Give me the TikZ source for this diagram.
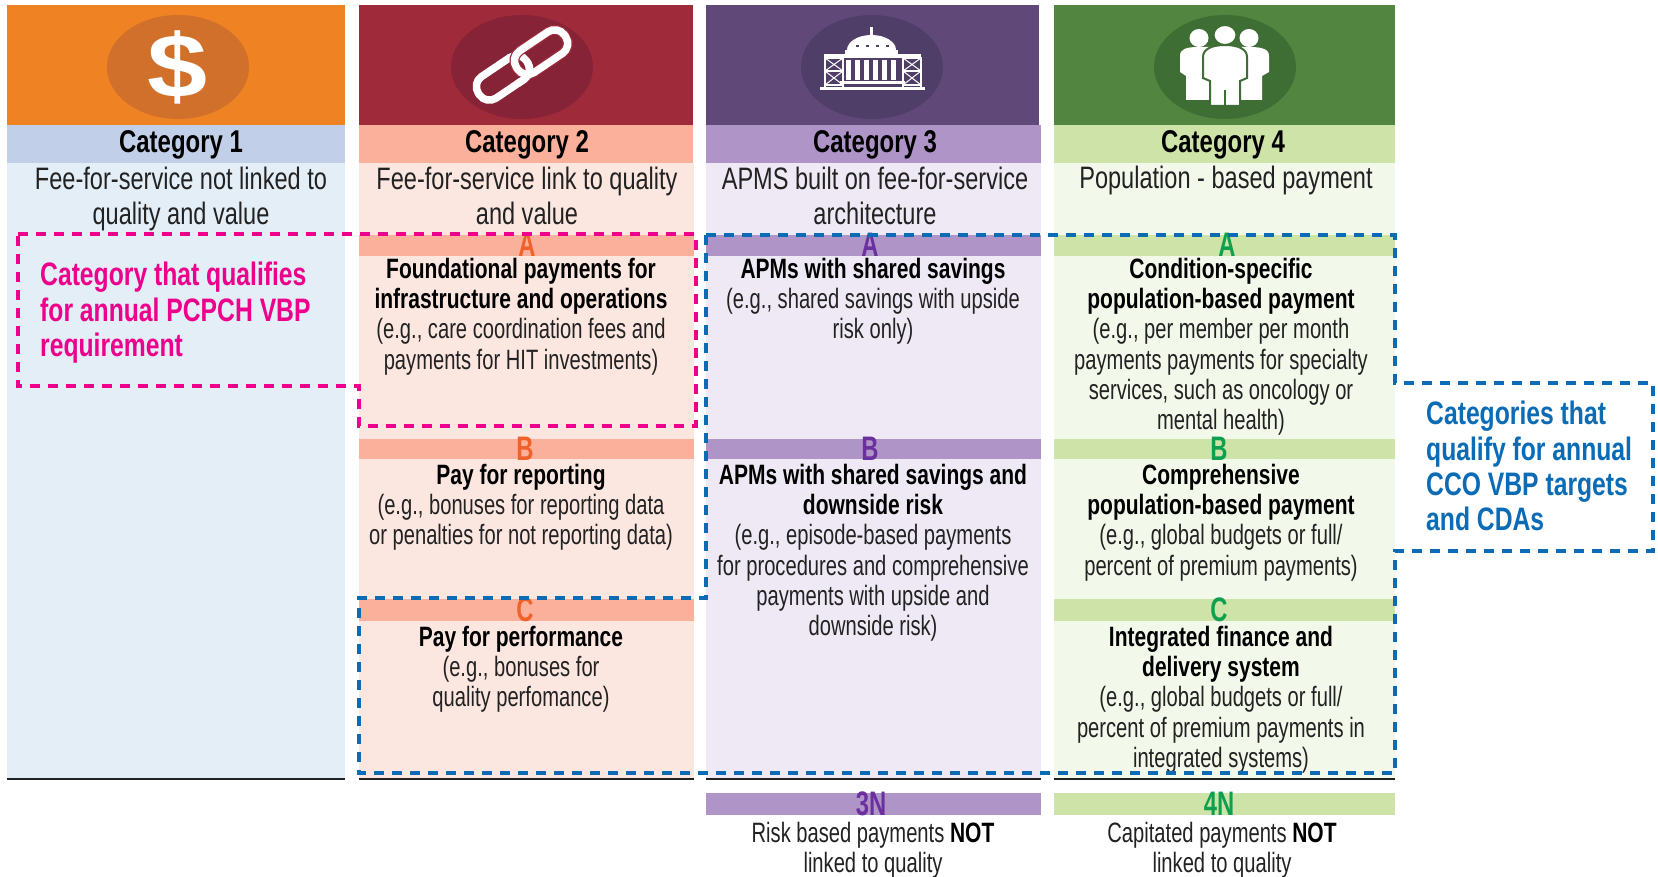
\documentclass[tikz,border=0pt]{standalone}
\usepackage{fontspec}
\setmainfont[FakeStretch=0.76]{Liberation Sans}
\newfontfamily\wideface[FakeStretch=1.2]{Liberation Sans}
\newfontfamily\bodyface[FakeStretch=0.72,BoldFeatures={FakeStretch=0.75}]{Liberation Sans}
\newfontfamily\tagface[FakeStretch=0.7]{Liberation Sans}
\usetikzlibrary{shapes.geometric}
\definecolor{hOrange}{HTML}{EF8222}\definecolor{cOrange}{HTML}{D0702A}
\definecolor{hRed}{HTML}{9E2A3A}\definecolor{cRed}{HTML}{872336}
\definecolor{hPurple}{HTML}{604878}\definecolor{cPurple}{HTML}{4E3E68}
\definecolor{hGreen}{HTML}{52853F}\definecolor{cGreen}{HTML}{3F6E35}
\definecolor{bBlue}{HTML}{C2CFE8}\definecolor{bSalmon}{HTML}{FAB09A}
\definecolor{bLilac}{HTML}{AF94C8}\definecolor{bLime}{HTML}{CDE3A8}
\definecolor{fBlue}{HTML}{E3EEF7}\definecolor{fSalmon}{HTML}{FCE7E0}
\definecolor{fLilac}{HTML}{EEE9F4}\definecolor{fLime}{HTML}{F2F8EA}
\definecolor{lOrange}{HTML}{F0622A}\definecolor{lPurple}{HTML}{6B2F9E}
\definecolor{lGreen}{HTML}{0FA04F}\definecolor{dPink}{HTML}{EC008C}
\definecolor{dBlue}{HTML}{0B6CB5}\definecolor{ink}{HTML}{222222}
\tikzset{
  x=1pt,y=-1pt,
  head/.style={font=\fontsize{31.5}{30}\selectfont\bfseries,inner sep=0pt,text=black},
  sub/.style={font=\fontsize{31}{35}\selectfont,inner sep=0pt,align=center,anchor=north,text=ink},
  body/.style={font=\bodyface\fontsize{28}{30.2}\selectfont,inner sep=0pt,align=center,anchor=north,text=ink},
  tag/.style={font=\tagface\fontsize{34}{30}\selectfont\bfseries,inner sep=0pt},
  note/.style={font=\fontsize{32.5}{35.3}\selectfont\bfseries,inner sep=0pt,align=left,anchor=north west},
  dashbox/.style={line width=3.7pt,dash pattern=on 10pt off 8pt},
}
\newcommand{\bst}[1]{\textcolor{black}{\textbf{#1}}}
\begin{document}
\begin{tikzpicture}
\useasboundingbox (0,0) rectangle (1658,877);
\fill[white] (0,0) rectangle (1658,877);
% column fills
\fill[fBlue] (7,163) rectangle (345,779);
\fill[fSalmon] (359,163) rectangle (694,779);
\fill[fLilac] (706,163) rectangle (1041,779);
\fill[fLime] (1054,163) rectangle (1395,779);
% headers
\fill[hOrange] (7,5) rectangle (345,125);
\fill[hRed] (359,5) rectangle (693,125);
\fill[hPurple] (706,5) rectangle (1039,125);
\fill[hGreen] (1054,5) rectangle (1395,125);
\fill[bBlue] (7,125) rectangle (345,163);
\fill[bSalmon] (359,125) rectangle (693,163);
\fill[bLilac] (706,125) rectangle (1041,163);
\fill[bLime] (1054,125) rectangle (1395,163);
% medallions
\fill[cOrange] (178,67) ellipse [x radius=71,y radius=52];
\fill[cRed] (522,67) ellipse [x radius=71,y radius=52];
\fill[cPurple] (872,67) ellipse [x radius=71,y radius=52];
\fill[cGreen] (1225,67) ellipse [x radius=71,y radius=52];
% dollar
\node[inner sep=0pt,text=white,font=\fontsize{90}{90}\selectfont\wideface\bfseries] (dollar) at (178,67) {\$};
% chain
\begin{scope}[shift={(522,65)},rotate=34]
  \draw[white,line width=7.5pt,rounded corners=12pt] (-52,-13) rectangle (6,13);
  \draw[hRed,line width=10pt,rounded corners=12pt] (-6,-13) rectangle (52,13);
  \draw[white,line width=7.5pt,rounded corners=12pt] (-6,-13) rectangle (52,13);
  \begin{scope}
    \clip (-14,2) rectangle (14,22);
    \draw[white,line width=7.5pt,rounded corners=12pt] (-52,-13) rectangle (6,13);
  \end{scope}
\end{scope}
% capitol
\begin{scope}[white]
  \fill (847,50) arc[start angle=180,end angle=360,x radius=24.5,y radius=15] -- cycle;
  \fill (870,36) rectangle (873,27);
  \fill (845,50) rectangle (898,54);
  \fill (824,54) rectangle (921,58);
  \foreach \xx in {846,855,864,873,882,891} \fill (\xx,60) rectangle +(4.5,20);
  \fill (840,81) rectangle (905,84);
  \fill (820,87) rectangle (925,90);
  \foreach \xx in {825,903} {
    \draw[line width=1.3pt] (\xx,58) rectangle +(18,13);
    \draw[line width=1.3pt] (\xx,71) rectangle +(18,14);
    \draw[line width=1pt] (\xx,58) -- +(18,13) (\xx,71) -- +(18,-13) (\xx,71) -- +(18,14) (\xx,85) -- +(18,-14);
    \draw[line width=1.5pt] (\xx,85) -- +(0,5) (\xx+18,85) -- +(0,5);
  }
  \foreach \xx in {856,866,876,886} \fill[cPurple] (\xx,45.5) rectangle +(2.5,2);
\end{scope}
% people
\begin{scope}
  \fill[white] (1199,38) ellipse [x radius=9.5,y radius=9];
  \fill[white] (1249,38) ellipse [x radius=9.5,y radius=9];
  \fill[white] (1180,72) -- (1180,56) .. controls (1180,49) and (1186,47) .. (1199,47)
     -- (1249,47) .. controls (1262,47) and (1269,49) .. (1269,56) -- (1269,72) -- (1262,76) -- (1262,100) -- (1186,100) -- (1186,76) -- cycle;
  \draw[cGreen,line width=2pt,fill=white] (1203,78) -- (1203,57) .. controls (1203,49) and (1212,45) .. (1225,45)
     .. controls (1238,45) and (1247,49) .. (1247,57) -- (1247,78) -- (1240,81) -- (1240,106) -- (1210,106) -- (1210,81) -- cycle;
  \draw[cGreen,line width=2pt,fill=white] (1225,35) ellipse [x radius=11.5,y radius=10];
  \fill[cGreen] (1223.8,90) rectangle (1226.2,107);
\end{scope}
% section bars
\foreach \ya/\yb in {235/256,439/459,599/621} \fill[bSalmon] (359,\ya) rectangle (694,\yb);
\foreach \ya/\yb in {235/256,439/459,793/815} \fill[bLilac] (706,\ya) rectangle (1041,\yb);
\foreach \ya/\yb in {235/256,439/459,599/621,793/815} \fill[bLime] (1054,\ya) rectangle (1395,\yb);
% base lines
\foreach \xa/\xb in {7/345,359/694,706/1041,1054/1395} \draw[ink,line width=2pt] (\xa,779) -- (\xb,779);
% category titles
\node[head] (c1) at (181,144.5) {Category 1};
\node[head] (c2) at (527,144.5) {Category 2};
\node[head] (c3) at (875,144.5) {Category 3};
\node[head] (c4) at (1223,144.5) {Category 4};
\node[sub] (s1) at (181,167) {Fee-for-service not linked to\\quality and value};
\node[sub] (s2) at (527,167) {Fee-for-service link to quality\\and value};
\node[sub] (s3) at (875,167) {APMS built on fee-for-service\\architecture};
\node[sub] (s4) at (1226,166) {Population - based payment};
% letters
\node[tag,text=lOrange] (a2) at (527,245) {A};
\node[tag,text=lOrange] (b2) at (525,449) {B};
\node[tag,text=lOrange] (c2l) at (525,610) {C};
\node[tag,text=lPurple] (a3) at (870,245) {A};
\node[tag,text=lPurple] (b3) at (870,449) {B};
\node[tag,text=lPurple] (n3) at (871,804) {3N};
\node[tag,text=lGreen] (a4) at (1227,245) {A};
\node[tag,text=lGreen] (b4) at (1219,449) {B};
\node[tag,text=lGreen] (c4l) at (1219,610) {C};
\node[tag,text=lGreen] (n4) at (1219,804) {4N};
% bodies
\node[body] (t2a) at (521,258) {\bst{Foundational payments for}\\\bst{infrastructure and operations}\\(e.g., care coordination fees and\\payments for HIT investments)};
\node[body] (t2b) at (521,464) {\bst{Pay for reporting}\\(e.g., bonuses for reporting data\\or penalties for not reporting data)};
\node[body] (t2c) at (521,626) {\bst{Pay for performance}\\(e.g., bonuses for\\quality perfomance)};
\node[body] (t3a) at (873,258) {\bst{APMs with shared savings}\\(e.g., shared savings with upside\\risk only)};
\node[body] (t3b) at (873,464) {\bst{APMs with shared savings and}\\\bst{downside risk}\\(e.g., episode-based payments\\for procedures and comprehensive\\payments with upside and\\downside risk)};
\node[body] (t4a) at (1221,258) {\bst{Condition-specific}\\\bst{population-based payment}\\(e.g., per member per month\\payments payments for specialty\\services, such as oncology or\\mental health)};
\node[body] (t4b) at (1221,464) {\bst{Comprehensive}\\\bst{population-based payment}\\(e.g., global budgets or full/\\percent of premium payments)};
\node[body] (t4c) at (1221,626) {\bst{Integrated finance and}\\\bst{delivery system}\\(e.g., global budgets or full/\\percent of premium payments in\\integrated systems)};
\node[body] (t3n) at (873,822) {Risk based payments \bst{NOT}\\linked to quality};
\node[body] (t4n) at (1222,822) {Capitated payments \bst{NOT}\\linked to quality};
% notes
\node[note,text=dPink] (pn) at (40,262) {Category that qualifies\\for annual PCPCH VBP\\requirement};
\node[note,text=dBlue] (bn) at (1426,401) {Categories that\\qualify for annual\\CCO VBP targets\\and CDAs};
% dashed outlines
\draw[dashbox,dPink] (18,234) -- (696,234) -- (696,426) -- (359,426) -- (359,386) -- (18,386) -- cycle;
\draw[dashbox,dBlue] (706,235) -- (1395,235) -- (1395,383) -- (1653,383) -- (1653,551) -- (1395,551) -- (1395,773) -- (359,773) -- (359,598) -- (706,598) -- cycle;
\end{tikzpicture}
\end{document}
